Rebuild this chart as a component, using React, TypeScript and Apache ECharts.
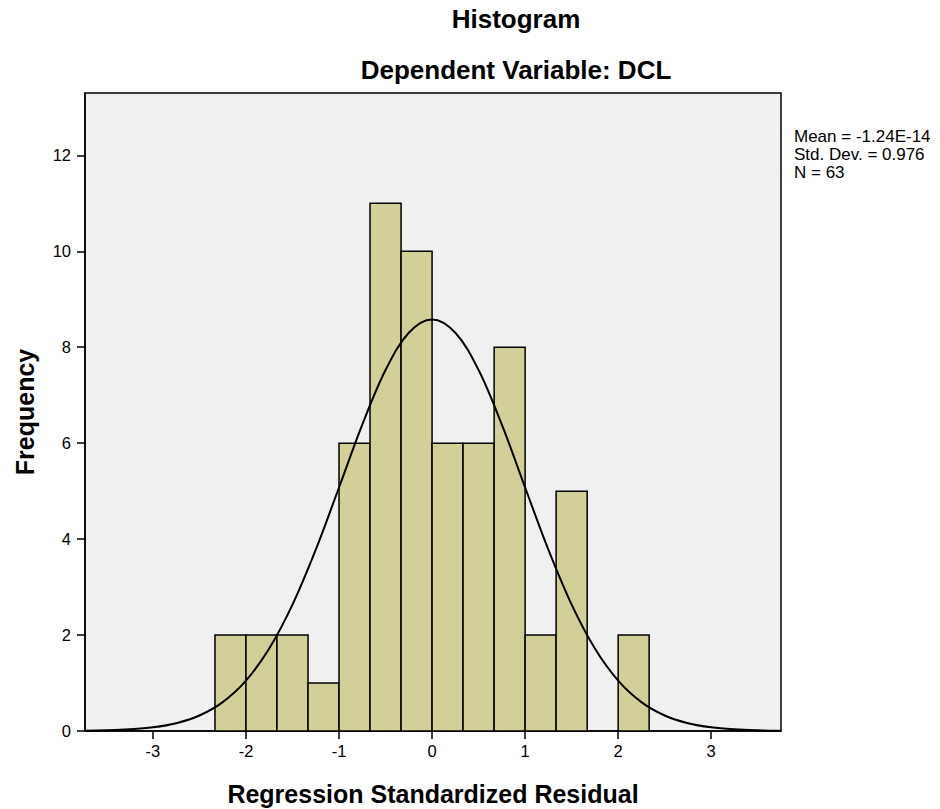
import React, { useEffect, useRef } from "react";
import * as echarts from "echarts";

// Histogram bins (regression standardized residual)
const binEdges = [-2.333, -2.0, -1.667, -1.333, -1.0, -0.667, -0.333, 0, 0.333, 0.667, 1.0, 1.333, 1.667, 2.0, 2.333];
const binCounts = [2, 2, 2, 1, 6, 11, 10, 6, 6, 8, 2, 5, 0, 2];

// Normal curve values
const curveX = [-3.75, -3.5, -3.25, -3.0, -2.75, -2.5, -2.25, -2.0, -1.75, -1.5, -1.25, -1.0, -0.75, -0.5, -0.25, 0,
  0.25, 0.5, 0.75, 1.0, 1.25, 1.5, 1.75, 2.0, 2.25, 2.5, 2.75, 3.0, 3.25, 3.5, 3.75];
const curveY = [0.005, 0.014, 0.034, 0.076, 0.162, 0.323, 0.602, 1.051, 1.72, 2.634, 3.779, 5.076, 6.386, 7.525, 8.303, 8.58,
  8.303, 7.525, 6.386, 5.076, 3.779, 2.634, 1.72, 1.051, 0.602, 0.323, 0.162, 0.076, 0.034, 0.014, 0.005];

const xTicks = [-3, -2, -1, 0, 1, 2, 3];
const yTicks = [0, 2, 4, 6, 8, 10, 12];
const statsLines = ["Mean = -1.24E-14", "Std. Dev. = 0.976", "N = 63"];

export default function App() {
  const ref = useRef<HTMLDivElement>(null);
  useEffect(() => {
    document.body.style.margin = "0";
    const chart = echarts.init(ref.current!, null, { renderer: "svg" });
    const barData = binCounts
      .map((c, i) => [binEdges[i], binEdges[i + 1], c])
      .filter((d) => d[2] > 0);
    const font = "Liberation Sans, Arial, sans-serif";
    chart.setOption({
      animation: false,
      backgroundColor: "#ffffff",
      grid: {
        left: 85,
        right: 159,
        top: 93,
        bottom: 78,
        outerBoundsMode: "none",
        containLabel: false,
        show: true,
        backgroundColor: "#F0F0F0",
        borderColor: "#000",
        borderWidth: 1.5,
      },
      graphic: [
        {
          type: "text",
          x: 516,
          y: 6,
          style: { text: "Histogram", font: `bold 26px ${font}`, fill: "#000", textAlign: "center" },
        },
        {
          type: "text",
          x: 516,
          y: 57,
          style: { text: "Dependent Variable: DCL", font: `bold 26px ${font}`, fill: "#000", textAlign: "center" },
        },
        {
          type: "text",
          x: 794,
          y: 127,
          style: { text: statsLines.join("\n"), font: `17px ${font}`, lineHeight: 18, fill: "#000" },
        },
      ],
      xAxis: {
        type: "value",
        min: -3.73,
        max: 3.75,
        name: "Regression Standardized Residual",
        nameLocation: "middle",
        nameGap: 50,
        nameTextStyle: { fontFamily: font, fontWeight: "bold", fontSize: 25, color: "#000" },
        axisLine: { show: true, onZero: false, lineStyle: { color: "#000", width: 1.5 } },
        axisTick: { show: true, customValues: xTicks, length: 8, lineStyle: { color: "#000", width: 1.5 } },
        axisLabel: { customValues: xTicks, fontFamily: font, fontSize: 16.5, color: "#000", margin: 11 },
        splitLine: { show: false },
      },
      yAxis: {
        type: "value",
        min: 0,
        max: 13.3,
        name: "Frequency",
        nameLocation: "middle",
        nameGap: 48,
        nameTextStyle: { fontFamily: font, fontWeight: "bold", fontSize: 25, color: "#000" },
        axisLine: { show: true, onZero: false, lineStyle: { color: "#000", width: 1.5 } },
        axisTick: { show: true, customValues: yTicks, length: 8, lineStyle: { color: "#000", width: 1.5 } },
        axisLabel: { customValues: yTicks, fontFamily: font, fontSize: 16.5, color: "#000", margin: 14 },
        splitLine: { show: false },
      },
      series: [
        {
          type: "custom",
          data: barData,
          renderItem: (params: any, api: any) => {
            const p0 = api.coord([api.value(0), api.value(2)]);
            const p1 = api.coord([api.value(1), 0]);
            return {
              type: "rect",
              shape: { x: p0[0], y: p0[1], width: p1[0] - p0[0], height: p1[1] - p0[1] },
              style: { fill: "#D3CF98", stroke: "#000", lineWidth: 1.5 },
            };
          },
          z: 2,
        },
        {
          type: "line",
          data: curveX.map((x, i) => [x, curveY[i]]),
          smooth: 0.35,
          showSymbol: false,
          lineStyle: { color: "#000", width: 2 },
          z: 3,
        },
      ],
    });
    return () => chart.dispose();
  }, []);
  return <div ref={ref} style={{ width: 940, height: 809 }} />;
}
